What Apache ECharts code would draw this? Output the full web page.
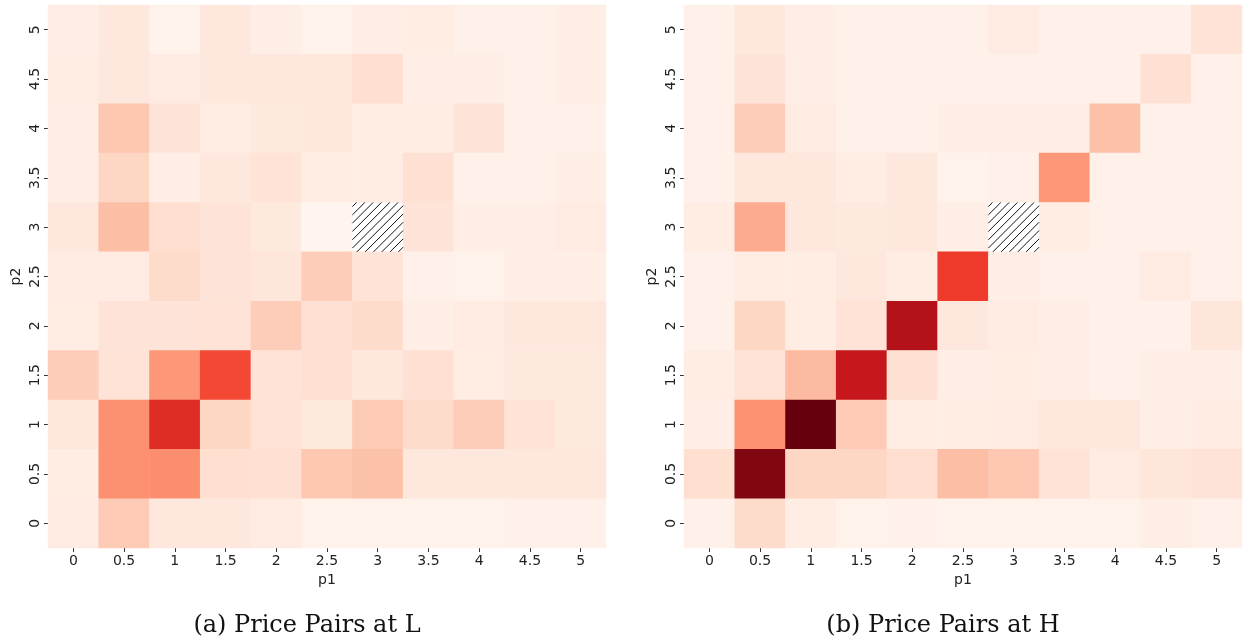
<!DOCTYPE html>
<html>
<head>
<meta charset="utf-8">
<script src="https://cdn.jsdelivr.net/npm/echarts@6/dist/echarts.min.js"></script>
<style>
html,body{margin:0;padding:0;background:#fff;}
#chart{width:1244px;height:644px;}
</style>
</head>
<body>
<div id="chart"></div>
<script>
// Tick labels (p1 along x, p2 along y, bottom to top)
const p1Labels = ['0','0.5','1','1.5','2','2.5','3','3.5','4','4.5','5'];
const p2Labels = ['0','0.5','1','1.5','2','2.5','3','3.5','4','4.5','5'];

// Normalised frequencies; rows listed from p2 = 5 (top) down to p2 = 0 (bottom), columns p1 = 0..5
// null = missing cell (hatched)
const pairsL = [
  [0.04,0.08,0.02,0.08,0.04,0.02,0.04,0.05,0.03,0.03,0.04],
  [0.05,0.08,0.06,0.08,0.08,0.08,0.13,0.04,0.04,0.03,0.04],
  [0.04,0.21,0.10,0.05,0.07,0.08,0.05,0.05,0.10,0.03,0.03],
  [0.04,0.16,0.04,0.08,0.11,0.05,0.05,0.12,0.025,0.025,0.04],
  [0.08,0.24,0.13,0.10,0.07,0.00,null,0.10,0.04,0.04,0.06],
  [0.06,0.06,0.14,0.10,0.09,0.19,0.11,0.03,0.02,0.04,0.04],
  [0.05,0.10,0.10,0.11,0.19,0.12,0.14,0.04,0.06,0.08,0.08],
  [0.19,0.11,0.36,0.59,0.11,0.12,0.08,0.12,0.05,0.07,0.07],
  [0.08,0.38,0.68,0.16,0.11,0.07,0.20,0.14,0.19,0.11,0.07],
  [0.05,0.38,0.39,0.13,0.12,0.21,0.23,0.08,0.08,0.08,0.08],
  [0.06,0.20,0.08,0.08,0.06,0.02,0.02,0.02,0.02,0.03,0.03]
];
const pairsH = [
  [0.03,0.08,0.04,0.03,0.03,0.03,0.06,0.03,0.03,0.03,0.11],
  [0.03,0.10,0.04,0.03,0.03,0.03,0.03,0.03,0.03,0.12,0.03],
  [0.03,0.19,0.06,0.03,0.03,0.04,0.04,0.04,0.23,0.03,0.03],
  [0.03,0.08,0.08,0.05,0.08,0.02,0.03,0.36,0.03,0.03,0.03],
  [0.05,0.30,0.08,0.07,0.08,0.04,null,0.05,0.03,0.03,0.03],
  [0.03,0.05,0.05,0.08,0.05,0.63,0.04,0.03,0.03,0.06,0.03],
  [0.03,0.16,0.05,0.11,0.83,0.08,0.06,0.04,0.03,0.03,0.09],
  [0.05,0.11,0.25,0.77,0.12,0.04,0.05,0.04,0.03,0.04,0.04],
  [0.04,0.375,1.00,0.20,0.05,0.05,0.06,0.08,0.08,0.04,0.06],
  [0.13,0.95,0.16,0.16,0.13,0.24,0.21,0.11,0.06,0.09,0.10],
  [0.03,0.14,0.05,0.02,0.03,0.02,0.02,0.02,0.02,0.04,0.03]
];
const captions = ['(a) Price Pairs at L', '(b) Price Pairs at H'];

const reds = ['#fff5f0','#fee0d2','#fcbba1','#fc9272','#fb6a4a','#ef3b2c','#cb181d','#a50f15','#67000d'];

function toData(rows) {
  const out = [], missing = [];
  const n = rows.length;
  rows.forEach((row, r) => {
    const yi = n - 1 - r;
    row.forEach((v, xi) => {
      if (v === null) missing.push([xi, yi]);
      else out.push([xi, yi, v]);
    });
  });
  return {out, missing};
}
const dL = toData(pairsL), dH = toData(pairsH);

const font = 'DejaVu Sans';
function xAx(gi) {
  return {
    type: 'category', gridIndex: gi, data: p1Labels,
    name: 'p1', nameLocation: 'middle', nameGap: 24,
    nameTextStyle: {fontFamily: font, fontSize: 14, color: '#222'},
    axisLine: {show: false},
    axisTick: {show: true, alignWithLabel: true, length: 4, lineStyle: {color: '#333'}},
    axisLabel: {fontFamily: font, fontSize: 14, color: '#222', margin: 6},
    splitLine: {show: false}
  };
}
function yAx(gi) {
  return {
    type: 'category', gridIndex: gi, data: p2Labels,
    name: 'p2', nameLocation: 'middle', nameGap: 25, nameRotate: 90,
    nameTextStyle: {fontFamily: font, fontSize: 14, color: '#222'},
    axisLine: {show: false},
    axisTick: {show: true, alignWithLabel: true, length: 4, lineStyle: {color: '#333'}},
    axisLabel: {fontFamily: font, fontSize: 14, color: '#222', margin: 6, rotate: 90},
    splitLine: {show: false}
  };
}

function hatch(params, api) {
  const c = api.coord([api.value(0), api.value(1)]);
  const s = api.size([1, 1]);
  const w = s[0], h = s[1];
  const x0 = c[0] - w / 2, y0 = c[1] - h / 2;
  const d = 8.3;
  const children = [];
  for (let k = d / 2; k < w + h; k += d) {
    const xa = Math.max(0, k - h), xb = Math.min(w, k);
    if (xb <= xa) continue;
    children.push({
      type: 'line',
      shape: {x1: x0 + xa, y1: y0 + (k - xa), x2: x0 + xb, y2: y0 + (k - xb)},
      style: {stroke: '#111', lineWidth: 1}
    });
  }
  return {type: 'group', children};
}

const chart = echarts.init(document.getElementById('chart'), null, {renderer: 'canvas'});
chart.setOption({
  animation: false,
  backgroundColor: '#fff',
  grid: [
    {left: 48, top: 5, width: 558, height: 543},
    {left: 684, top: 5, width: 558, height: 543}
  ],
  xAxis: [xAx(0), xAx(1)],
  yAxis: [yAx(0), yAx(1)],
  visualMap: {
    show: false, min: 0, max: 1, seriesIndex: [0, 1], dimension: 2,
    inRange: {color: reds}
  },
  graphic: [
    {type: 'text', style: {text: captions[0], font: '24px "DejaVu Serif"', fill: '#111', x: 307, y: 626, textAlign: 'center', textVerticalAlign: 'middle'}},
    {type: 'text', style: {text: captions[1], font: '24px "DejaVu Serif"', fill: '#111', x: 943, y: 626, textAlign: 'center', textVerticalAlign: 'middle'}}
  ],
  series: [
    {type: 'heatmap', xAxisIndex: 0, yAxisIndex: 0, data: dL.out, itemStyle: {borderWidth: 0}},
    {type: 'heatmap', xAxisIndex: 1, yAxisIndex: 1, data: dH.out, itemStyle: {borderWidth: 0}},
    {type: 'custom', xAxisIndex: 0, yAxisIndex: 0, data: dL.missing, renderItem: hatch, silent: true},
    {type: 'custom', xAxisIndex: 1, yAxisIndex: 1, data: dH.missing, renderItem: hatch, silent: true}
  ]
});
</script>
</body>
</html>
